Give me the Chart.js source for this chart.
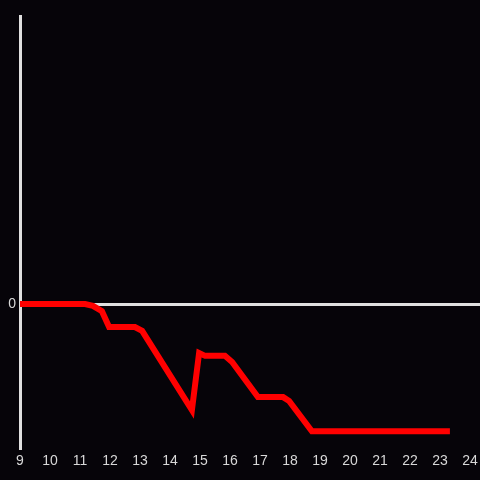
<!DOCTYPE html>
<html>

<head>
    <title>Line Chart</title>
    <script src="https://cdn.jsdelivr.net/npm/chart.js@4/dist/chart.umd.min.js"></script>
    <style>
        body { margin: 0; background: #060409; }
    </style>
</head>

<body>
    <canvas id="lineChart" width="480" height="480"></canvas>

    <script>
        // Data (hour of day, value)
        var hours = [9, 11.17, 11.43, 11.73, 11.97, 12.83, 13.07, 14.73, 14.97, 15.17, 15.83, 16.07, 16.93, 17.77, 17.97, 18.73, 23.33];
        var values = [0, 0, -0.4, -1.5, -4.8, -4.8, -5.6, -22.1, -10.2, -10.8, -10.8, -12.1, -19.4, -19.4, -20.2, -26.5, -26.5];
        var hourTicks = [9, 10, 11, 12, 13, 14, 15, 16, 17, 18, 19, 20, 21, 22, 23, 24];

        var points = [];
        for (var i = 0; i < hours.length; i++) {
            points.push({ x: hours[i], y: values[i] });
        }

        // Paint the dark background behind everything
        var background = {
            id: 'background',
            beforeDraw: function (chart) {
                var c = chart.ctx;
                c.save();
                c.fillStyle = '#060409';
                c.fillRect(0, 0, chart.width, chart.height);
                c.restore();
            }
        };

        var ctx = document.getElementById('lineChart').getContext('2d');
        var chart = new Chart(ctx, {
            type: 'line',
            data: {
                datasets: [{
                    data: points,
                    borderColor: '#ff0000',
                    borderWidth: 6,
                    pointRadius: 0,
                    tension: 0,
                    fill: false
                }]
            },
            options: {
                responsive: false,
                animation: false,
                layout: { padding: { top: 16, right: 0, left: 0, bottom: 0 } },
                plugins: {
                    legend: { display: false },
                    tooltip: { enabled: false }
                },
                scales: {
                    x: {
                        type: 'linear',
                        min: 9,
                        max: 24.333,
                        grid: { display: false, drawTicks: false },
                        border: { display: false },
                        afterBuildTicks: function (scale) {
                            scale.ticks = hourTicks.map(function (h) { return { value: h }; });
                        },
                        afterFit: function (scale) {
                            scale.height = 32;
                            scale.paddingLeft = 0;
                            scale.paddingRight = 0;
                        },
                        ticks: {
                            color: '#d8d8d8',
                            font: { family: 'Liberation Sans', size: 14 },
                            padding: 5,
                            maxRotation: 0,
                            autoSkip: false
                        }
                    },
                    y: {
                        min: -30,
                        max: 60,
                        afterBuildTicks: function (scale) {
                            scale.ticks = [{ value: 0 }];
                        },
                        afterFit: function (scale) { scale.width = 20; },
                        grid: { color: '#e0e0e0', lineWidth: 3, drawTicks: false },
                        border: { display: true, color: '#e0e0e0', width: 3 },
                        ticks: {
                            color: '#d8d8d8',
                            font: { family: 'Liberation Sans', size: 14 },
                            padding: 4
                        }
                    }
                }
            },
            plugins: [background]
        });
    </script>
</body>

</html>
